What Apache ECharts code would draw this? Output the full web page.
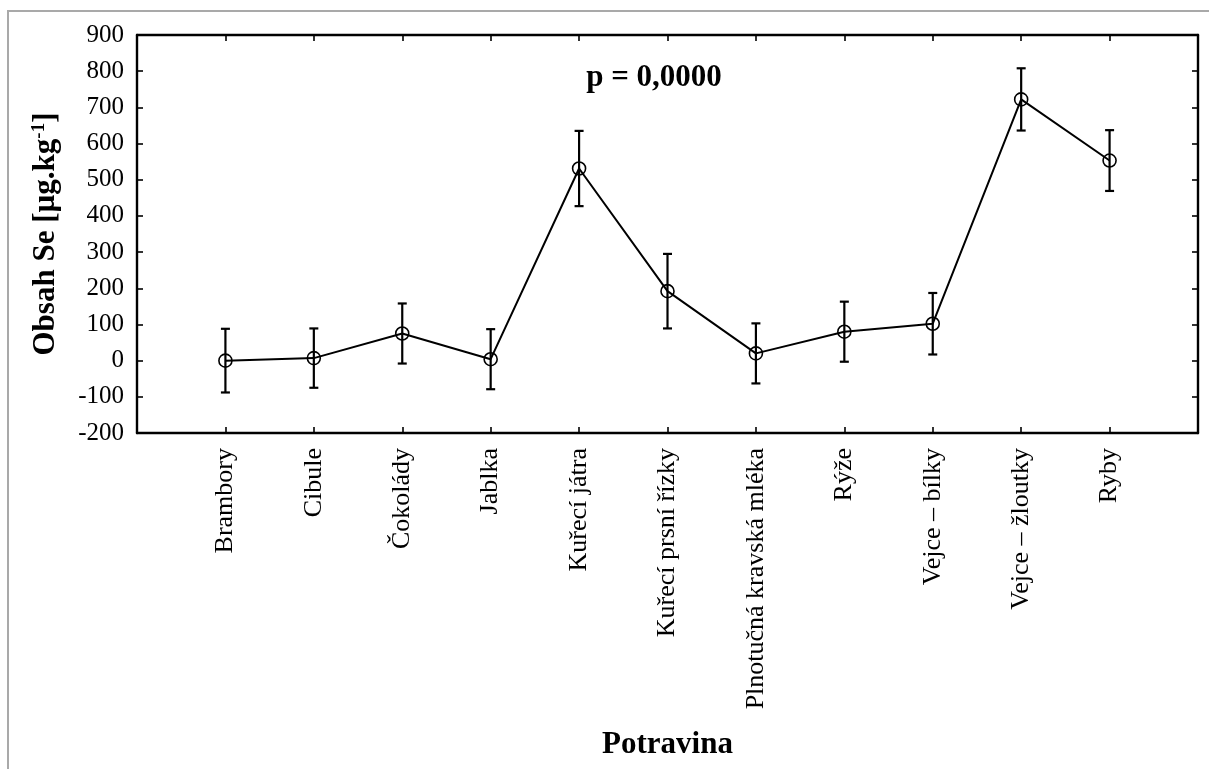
<!DOCTYPE html>
<html>
<head>
<meta charset="utf-8">
<script src="https://cdn.jsdelivr.net/npm/echarts@6/dist/echarts.min.js"></script>
<style>
  html, body { margin: 0; padding: 0; background: #fff; }
  #chart { width: 1209px; height: 769px; }
</style>
</head>
<body>
<div id="chart"></div>
<script>
// Food categories (x axis, positions 1..11)
const categories = [
  'Brambory', 'Cibule', 'Čokolády', 'Jablka', 'Kuřecí játra',
  'Kuřecí prsní řízky', 'Plnotučná kravská mléka', 'Rýže',
  'Vejce – bílky', 'Vejce – žloutky', 'Ryby'
];
// Mean Se content [µg/kg]
const means = [0, 7, 75, 4, 531, 192, 20, 80, 102, 722, 553];
// Half-width of the error bars [µg/kg]
const errors = [88, 82, 83, 83, 104, 103, 83, 83, 85, 86, 84];
// Y axis range and step
const yMin = -200, yMax = 900, yStep = 100;
const pLabel = 'p = 0,0000';

const FONT = "'Liberation Serif', 'Times New Roman', serif";

const linePoints = categories.map((c, i) => [i + 1, means[i]]);
const barPoints = categories.map((c, i) => [i + 1, means[i] - errors[i], means[i] + errors[i]]);

const chart = echarts.init(document.getElementById('chart'), null, { renderer: 'canvas' });

const frameLine = { show: true, onZero: false, lineStyle: { color: '#000', width: 2.4 } };
const innerTick = { show: true, inside: true, length: 6, lineStyle: { color: '#000', width: 1.6 } };

chart.setOption({
  backgroundColor: '#fff',
  animation: false,
  grid: { left: 137, top: 35, right: 11, bottom: 336, containLabel: false, outerBoundsMode: 'none' },
  xAxis: [{
    type: 'value', position: 'bottom', min: 0, max: 12, interval: 1,
    axisLine: frameLine, axisTick: innerTick, splitLine: { show: false },
    axisLabel: {
      rotate: 90, margin: 15, fontFamily: FONT, fontSize: 26, color: '#000',
      formatter: v => (v >= 1 && v <= categories.length) ? categories[v - 1] : ''
    },
    name: 'Potravina', nameLocation: 'middle', nameGap: 296,
    nameTextStyle: { fontFamily: FONT, fontSize: 31, fontWeight: 'bold', color: '#000' }
  }, {
    type: 'value', position: 'top', min: 0, max: 12, interval: 1,
    axisLine: frameLine, axisTick: innerTick, splitLine: { show: false },
    axisLabel: { show: false }
  }],
  yAxis: [{
    type: 'value', position: 'left', min: yMin, max: yMax, interval: yStep,
    axisLine: frameLine, axisTick: innerTick, splitLine: { show: false },
    axisLabel: { margin: 13, fontFamily: FONT, fontSize: 25, color: '#000' },
    name: '{t|Obsah Se [µg.kg}{s|-1}{t|]}', nameLocation: 'middle', nameGap: 76,
    nameTextStyle: {
      rich: {
        t: { fontFamily: FONT, fontSize: 31, fontWeight: 'bold', color: '#000' },
        s: { fontFamily: FONT, fontSize: 19, fontWeight: 'bold', color: '#000', verticalAlign: 'top' }
      }
    }
  }, {
    type: 'value', position: 'right', min: yMin, max: yMax, interval: yStep,
    axisLine: frameLine, axisTick: innerTick, splitLine: { show: false },
    axisLabel: { show: false }
  }],
  series: [{
    type: 'custom',
    name: 'chyba',
    data: barPoints,
    z: 3,
    renderItem: (params, api) => {
      const x = api.value(0);
      const lo = api.coord([x, api.value(1)]);
      const hi = api.coord([x, api.value(2)]);
      const cap = 4.5;
      const style = { stroke: '#000', lineWidth: 2.2 };
      return {
        type: 'group',
        children: [
          { type: 'line', shape: { x1: lo[0], y1: lo[1], x2: hi[0], y2: hi[1] }, style },
          { type: 'line', shape: { x1: lo[0] - cap, y1: lo[1], x2: lo[0] + cap, y2: lo[1] }, style },
          { type: 'line', shape: { x1: hi[0] - cap, y1: hi[1], x2: hi[0] + cap, y2: hi[1] }, style }
        ]
      };
    }
  }, {
    type: 'line',
    name: 'průměr',
    data: linePoints,
    z: 4,
    symbol: 'circle',
    symbolSize: 13,
    lineStyle: { color: '#000', width: 2 },
    itemStyle: { color: 'rgba(0,0,0,0)', borderColor: '#000', borderWidth: 1.6 }
  }],
  graphic: [{
    type: 'rect',
    shape: { x: 8, y: 11, width: 1400, height: 1000 },
    style: { fill: null, stroke: '#a9a9a9', lineWidth: 2 },
    silent: true
  }, {
    type: 'text',
    x: 654, y: 78,
    style: {
      text: pLabel, fill: '#000',
      font: "bold 31px 'Liberation Serif', 'Times New Roman', serif",
      textAlign: 'center', textVerticalAlign: 'middle'
    }
  }]
});
</script>
</body>
</html>
